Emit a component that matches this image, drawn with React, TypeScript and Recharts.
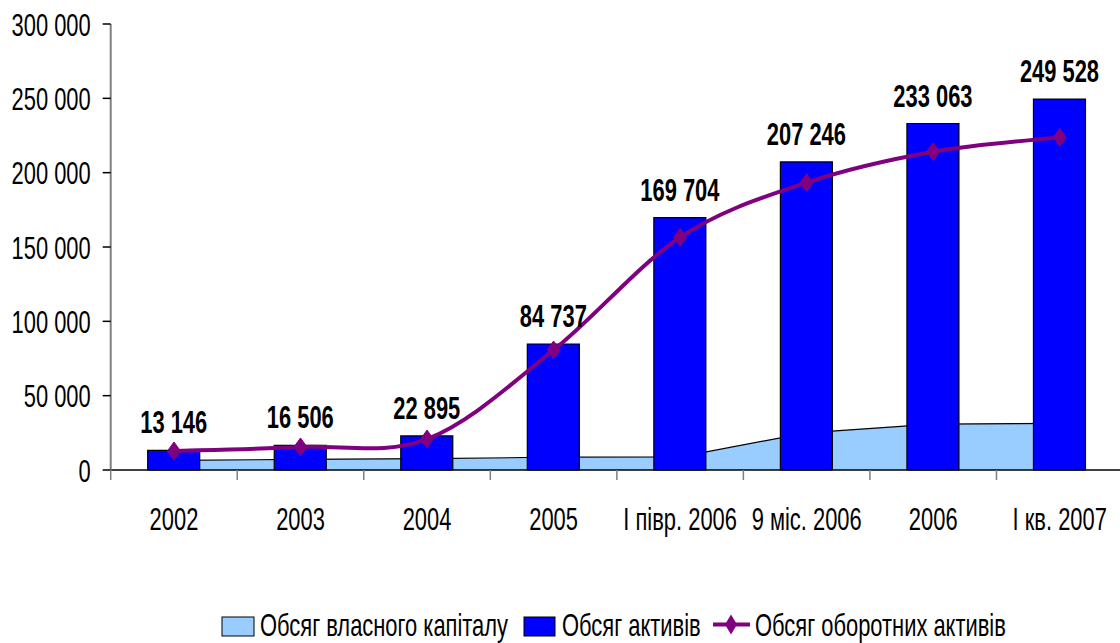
import React from 'react'
import {
  ComposedChart,
  Area,
  Bar,
  Line,
  XAxis,
  YAxis,
  Legend,
  LabelList,
} from 'recharts'

const periods = [
  '2002',
  '2003',
  '2004',
  '2005',
  'І півр. 2006',
  '9 міс. 2006',
  '2006',
  'І кв. 2007',
]
const equity = [6500, 7100, 7600, 8600, 8800, 25000, 30800, 31400]
const assets = [13146, 16506, 22895, 84737, 169704, 207246, 233063, 249528]
const currentAssets = [12800, 15500, 20800, 80700, 156500, 193300, 214100, 223800]
const yTicks = [0, 50000, 100000, 150000, 200000, 250000, 300000]

const SERIES_NAMES = {
  equity: 'Обсяг власного капіталу',
  assets: 'Обсяг активів',
  current: 'Обсяг оборотних активів',
}

// no narrow font installed: squeeze Liberation Sans horizontally
const FONT = "'Liberation Sans', Arial, sans-serif"
const FS = 32
const SQUEEZE = 0.685

const data = periods.map((p, i) => ({
  period: p,
  equity: equity[i],
  assets: assets[i],
  current: currentAssets[i],
}))

function fmt(v: number) {
  return String(v).replace(/\B(?=(\d{3})+(?!\d))/g, ' ')
}

// Excel-like smoothed line (Catmull-Rom through the points)
function excelCurve(context: any) {
  let pts: number[][] = []
  return {
    areaStart() {},
    areaEnd() {},
    lineStart() {
      pts = []
    },
    lineEnd() {
      const n = pts.length
      if (!n) return
      context.moveTo(pts[0][0], pts[0][1])
      for (let i = 0; i < n - 1; i++) {
        const p0 = pts[Math.max(i - 1, 0)]
        const p1 = pts[i]
        const p2 = pts[i + 1]
        const p3 = pts[Math.min(i + 2, n - 1)]
        context.bezierCurveTo(
          p1[0] + (p2[0] - p0[0]) / 6,
          p1[1] + (p2[1] - p0[1]) / 6,
          p2[0] - (p3[0] - p1[0]) / 6,
          p2[1] - (p3[1] - p1[1]) / 6,
          p2[0],
          p2[1]
        )
      }
    },
    point(x: number, y: number) {
      pts.push([+x, +y])
    },
  }
}

function NarrowText({ x, y, anchor = 'start', bold = false, children }: any) {
  return (
    <g transform={`translate(${x},${y}) scale(${SQUEEZE},1)`}>
      <text
        textAnchor={anchor}
        fontFamily={FONT}
        fontSize={FS}
        fontWeight={bold ? 'bold' : 'normal'}
        fill="#000"
      >
        {children}
      </text>
    </g>
  )
}

function YTick({ x, y, payload }: any) {
  return (
    <NarrowText x={x} y={y + 11.5} anchor="end">
      {fmt(payload.value)}
    </NarrowText>
  )
}

function XTick({ x, y, payload, index, visibleTicksCount }: any) {
  const off = payload.offset ?? 63.3
  const last = index === (visibleTicksCount ?? periods.length) - 1
  return (
    <g>
      <line x1={x - off} x2={x - off} y1={y - 10} y2={y} stroke="#808080" strokeWidth={1.5} />
      {last && (
        <line x1={x + off} x2={x + off} y1={y - 10} y2={y} stroke="#808080" strokeWidth={1.5} />
      )}
      <NarrowText x={x} y={y + 49.5} anchor="middle">
        {payload.value}
      </NarrowText>
    </g>
  )
}

function BarValue({ x, y, width, value }: any) {
  return (
    <NarrowText x={x + width / 2} y={y - 17} anchor="middle" bold>
      {fmt(value)}
    </NarrowText>
  )
}

function Diamond({ cx, cy }: any) {
  if (cx == null || cy == null) return null
  return (
    <polygon
      points={`${cx},${cy - 9} ${cx + 6.5},${cy} ${cx},${cy + 9} ${cx - 6.5},${cy}`}
      fill="#800080"
      stroke="#800080"
    />
  )
}

function LegendBox() {
  return (
    <svg width={1120} height={40} style={{ display: 'block' }}>
      <rect x={222} y={14} width={32} height={19} fill="#99CCFF" stroke="#000" />
      <NarrowText x={260} y={33}>
        {SERIES_NAMES.equity}
      </NarrowText>
      <rect x={524} y={14} width={31} height={19} fill="#0000FF" stroke="#000" />
      <NarrowText x={562} y={33}>
        {SERIES_NAMES.assets}
      </NarrowText>
      <line x1={713} x2={750} y1={21.5} y2={21.5} stroke="#800080" strokeWidth={4} />
      <polygon points="731,11.5 737,21.5 731,31.5 725,21.5" fill="#800080" />
      <NarrowText x={755} y={33}>
        {SERIES_NAMES.current}
      </NarrowText>
    </svg>
  )
}

export default function App() {
  return (
    <div
      style={{
        position: 'absolute',
        left: 0,
        top: 0,
        width: 1120,
        height: 643,
        overflow: 'hidden',
        background: '#fff',
      }}
    >
      <ComposedChart
        width={1130}
        height={643}
        data={data}
        margin={{ top: 24, right: 7, bottom: 0, left: 0 }}
      >
        <XAxis
          dataKey="period"
          interval={0}
          height={133}
          tickSize={10}
          tickMargin={0}
          tickLine={false}
          axisLine={{ stroke: '#000', strokeWidth: 1.5 }}
          tick={<XTick />}
        />
        <YAxis
          type="number"
          domain={[0, 300000]}
          ticks={yTicks}
          width={110.7}
          tickSize={8}
          tickMargin={12}
          axisLine={{ stroke: '#808080', strokeWidth: 2 }}
          tickLine={{ stroke: '#000', strokeWidth: 1.5 }}
          tick={<YTick />}
        />
        <Legend verticalAlign="bottom" content={<LegendBox />} />
        <Area
          dataKey="equity"
          name={SERIES_NAMES.equity}
          type="linear"
          fill="#99CCFF"
          fillOpacity={1}
          stroke="#000"
          strokeWidth={1.2}
          isAnimationActive={false}
        />
        <Bar
          dataKey="assets"
          name={SERIES_NAMES.assets}
          barSize={52}
          fill="#0000FF"
          stroke="#000"
          strokeWidth={1.2}
          isAnimationActive={false}
        >
          <LabelList dataKey="assets" content={<BarValue />} />
        </Bar>
        <Line
          dataKey="current"
          name={SERIES_NAMES.current}
          type={excelCurve as any}
          stroke="#800080"
          strokeWidth={4}
          dot={<Diamond />}
          activeDot={false}
          isAnimationActive={false}
        />
      </ComposedChart>
    </div>
  )
}
